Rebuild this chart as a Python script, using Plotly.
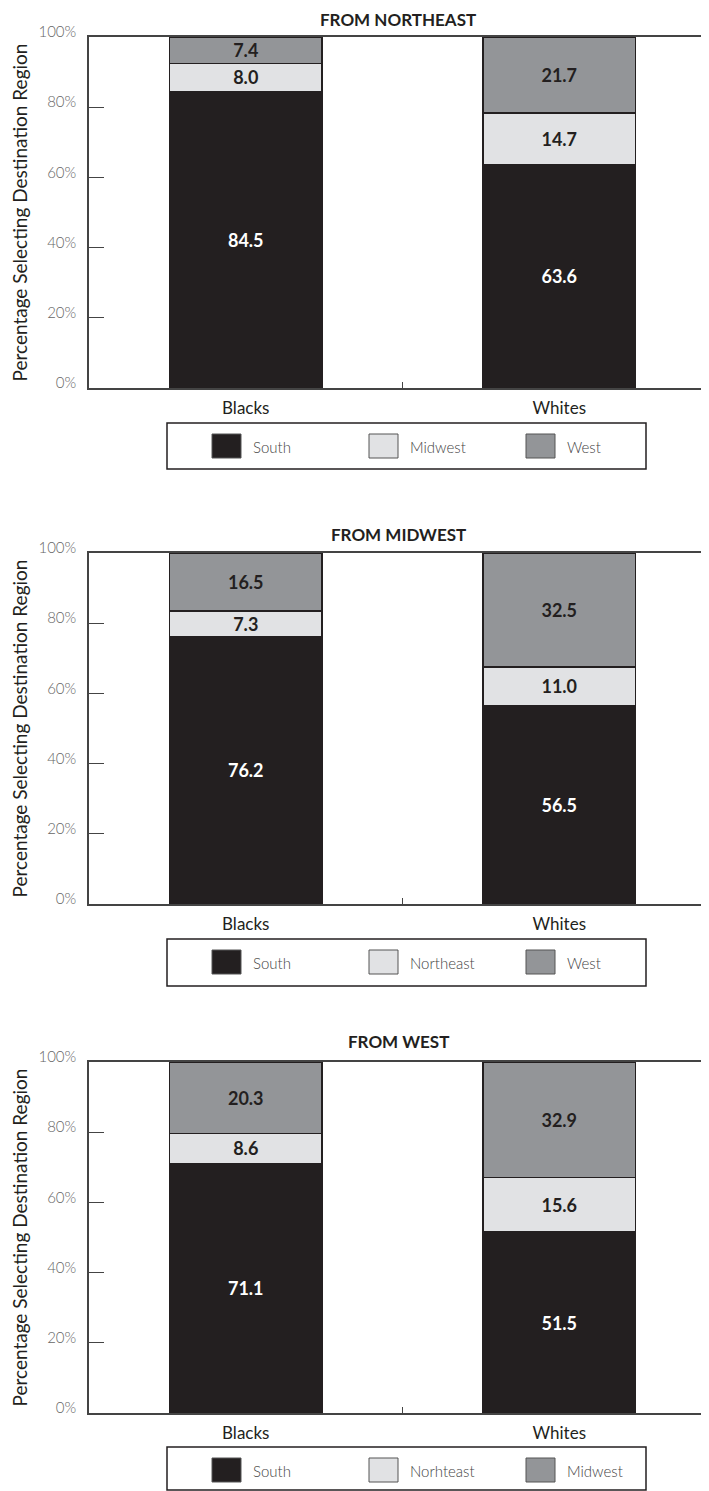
import plotly.graph_objects as go

# ---------------- data ----------------
groups = ["Blacks", "Whites"]
panel_titles = ["FROM NORTHEAST", "FROM MIDWEST", "FROM WEST"]

# Panel 1: from Northeast
ne_names = ["South", "Midwest", "West"]
ne_south = [84.5, 63.6]
ne_midwest = [8.0, 14.7]
ne_west = [7.4, 21.7]

# Panel 2: from Midwest
mw_names = ["South", "Northeast", "West"]
mw_south = [76.2, 56.5]
mw_northeast = [7.3, 11.0]
mw_west = [16.5, 32.5]

# Panel 3: from West (legend text kept as printed)
w_names = ["South", "Norhteast", "Midwest"]
w_south = [71.1, 51.5]
w_northeast = [8.6, 15.6]
w_midwest = [20.3, 32.9]

y_ticks = [0, 20, 40, 60, 80, 100]
y_ticktext = ["0%", "20%", "40%", "60%", "80%", "100%"]
y_title = "Percentage Selecting Destination Region"

# ---------------- style ----------------
seg_colors = ["#231f20", "#e1e2e4", "#939598"]
seg_text_colors = ["#ffffff", "#231f20", "#231f20"]
OFF = 8                      # page body margin offset
W, H = 709 - OFF, 1491 - OFF
ML = 89 - OFF
PW = W - ML

# panel geometry in page pixels (top, bottom of plot area; legend box top/bottom)
plot_px = [(37, 388), (553, 904), (1062, 1413)]
legend_px = [(423, 469), (939, 986), (1447, 1490)]
title_px = [19, 534, 1041]

def py(p):
    return 1 - (p - OFF) / H

def px(p):
    return (p - OFF - ML) / PW

panels = [
    (ne_names, [ne_south, ne_midwest, ne_west]),
    (mw_names, [mw_south, mw_northeast, mw_west]),
    (w_names, [w_south, w_northeast, w_midwest]),
]

fig = go.Figure()
layout = dict(
    width=W, height=H,
    margin=dict(l=ML, r=0, t=0, b=0, autoexpand=False),
    paper_bgcolor="white", plot_bgcolor="white",
    barmode="stack", bargap=0.515,
    showlegend=False,
    font=dict(family="Lato", color="#231f20"),
)
shapes = []
annotations = []
xvals = list(range(len(groups)))

for i, (names, series) in enumerate(panels):
    sfx = "" if i == 0 else str(i + 1)
    for k, (nm, vals) in enumerate(zip(names, series)):
        fig.add_trace(go.Bar(
            x=xvals, y=vals, name=nm,
            xaxis="x" + sfx, yaxis="y" + sfx,
            marker=dict(color=seg_colors[k], line=dict(color="#231f20", width=1.5)),
            texttemplate="%{y:.1f}",
            textposition="inside", insidetextanchor="middle",
            textangle=0, constraintext="none",
            insidetextfont=dict(family="Lato", size=18, weight="bold",
                                color=seg_text_colors[k]),
            hoverinfo="skip",
        ))
    top, bot = plot_px[i]
    layout["xaxis" + sfx] = dict(
        domain=[0, 1], anchor="y" + sfx, automargin=False,
        range=[-0.5, -0.5 + PW / 313.5],
        tickvals=xvals, ticktext=groups, ticks="",
        tickfont=dict(family="Lato", size=17, color="#231f20"),
        ticklabelstandoff=4,
        showline=True, linecolor="#444444", linewidth=1.5, mirror=True,
        showgrid=False, zeroline=False, fixedrange=True,
        minor=dict(tickvals=[0.5], ticks="inside", ticklen=6,
                   tickcolor="#444444", tickwidth=1, showgrid=False),
    )
    layout["yaxis" + sfx] = dict(
        domain=[py(bot), py(top)], anchor="x" + sfx, automargin=False,
        range=[0, 100], tickvals=y_ticks, ticktext=y_ticktext,
        ticks="inside", ticklen=15, tickcolor="#444444", tickwidth=1,
        tickfont=dict(family="Lato", size=15, weight=300, color="#666666"),
        ticklabelstandoff=8, ticklabelshift=-5,
        showline=True, linecolor="#444444", linewidth=1.5, mirror=False,
        showgrid=False, zeroline=False, fixedrange=True,
        title=dict(text=y_title, font=dict(family="Lato", size=19, color="#231f20"),
                   standoff=8),
    )
    # panel title
    annotations.append(dict(
        text=panel_titles[i], xref="paper", yref="paper",
        x=px(398), y=py(title_px[i]), xanchor="center", yanchor="middle",
        showarrow=False, borderpad=0,
        font=dict(family="Lato", size=17, weight="bold", color="#231f20"),
    ))
    # legend box
    lt, lb = legend_px[i]
    shapes.append(dict(type="rect", xref="paper", yref="paper",
                       x0=px(167), x1=px(646), y0=py(lb), y1=py(lt),
                       line=dict(color="#231f20", width=1.5), fillcolor="white",
                       layer="above"))
    cy = lt + 23
    for k, nm in enumerate(names):
        sx = 212 + 157 * k
        shapes.append(dict(type="rect", xref="paper", yref="paper",
                           x0=px(sx), x1=px(sx + 29), y0=py(cy + 12), y1=py(cy - 12),
                           line=dict(color="#555555", width=1), fillcolor=seg_colors[k],
                           layer="above"))
        annotations.append(dict(
            text=nm, xref="paper", yref="paper",
            x=px(sx + 39), y=py(cy + 1), xanchor="left", yanchor="middle",
            showarrow=False, font=dict(family="Lato", size=15, weight=300, color="#444444"),
        ))

layout["shapes"] = shapes
layout["annotations"] = annotations
fig.update_layout(**layout)
fig.write_html("out.html")
